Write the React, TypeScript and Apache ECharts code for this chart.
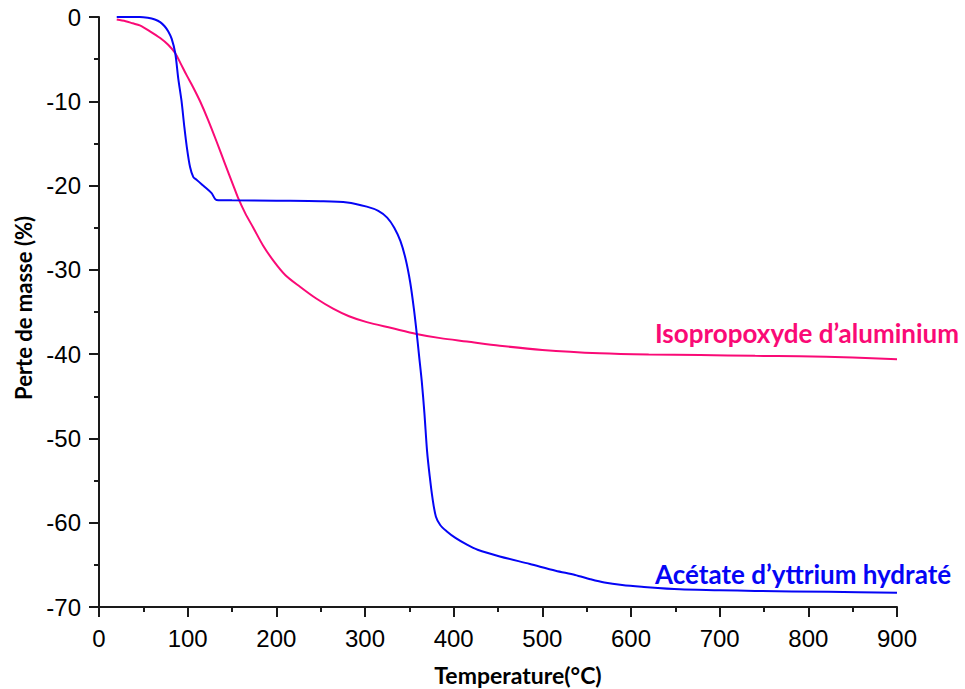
import React, { useEffect, useRef } from "react";
import * as echarts from "echarts";

const yttriumAcetate: [number, number][] = [
  [20, 0], [46, 0], [55, -0.1], [63, -0.3], [69, -0.6], [74, -1.1], [78, -1.7],
  [82, -2.6], [86, -4.3], [89.4, -7.3], [93, -9.9], [96.2, -13], [99, -15.4],
  [102.7, -17.8], [106.4, -19], [110, -19.3], [117.5, -20], [127, -20.9],
  [132.5, -21.7], [150, -21.75], [200, -21.8], [250, -21.85], [280, -22.0],
  [302, -22.5], [315, -23.0], [325, -23.8], [333, -25], [340, -26.6], [346, -28.8],
  [351, -31.5], [355, -34.5], [358, -37.2], [361, -40.2], [364, -43.2], [367, -47],
  [370, -51.5], [373, -54.5], [376, -57], [380, -59.3], [385, -60.3], [392, -61],
  [402, -61.8], [415, -62.6], [427, -63.2], [452, -64], [486, -64.9], [515, -65.7],
  [537, -66.2], [554, -66.7], [570, -67.1], [590, -67.4], [612, -67.6],
  [655, -67.9], [700, -68.0], [740, -68.1], [823, -68.2], [900, -68.3],
];

const aluminiumIsopropoxide: [number, number][] = [
  [20, -0.3], [30, -0.5], [38, -0.75], [46, -1.0], [57.5, -1.7], [69, -2.5],
  [78, -3.3], [86, -4.3], [92, -5.5], [98.8, -6.9], [106, -8.3], [114, -10],
  [123, -12.2], [132.7, -14.8], [142, -17.4], [151.5, -20], [157, -21.5],
  [165, -23.3], [174, -25], [185, -27.1], [196.6, -28.9], [210, -30.6],
  [226.7, -32], [245, -33.4], [264, -34.6], [282, -35.5], [302, -36.2],
  [330, -36.9], [358, -37.6], [385, -38.1], [415, -38.5], [452, -39.0],
  [500, -39.5], [565, -39.9], [620, -40.05], [678, -40.1], [740, -40.2],
  [790, -40.25], [850, -40.4], [900, -40.6],
];

const xTicks = { min: 0, max: 900, interval: 100 };
const yTicks = { min: -70, max: 0, interval: 10 };

const BLUE = "#0505f5";
const PINK = "#fa0a76";
const AXIS = "#1a1a1a";
const BOLD_FONT = "Lato, 'Open Sans', sans-serif";

export default function App() {
  const ref = useRef<HTMLDivElement>(null);
  useEffect(() => {
    if (!ref.current) return;
    const chart = echarts.init(ref.current, null, { renderer: "svg" });
    const axisCommon = {
      axisLine: { show: true, onZero: false, lineStyle: { color: AXIS, width: 2 } },
      axisTick: { show: true, inside: false, length: 10, lineStyle: { color: AXIS, width: 2 } },
      minorTick: { show: true, splitNumber: 2, length: 5, lineStyle: { color: AXIS, width: 2 } },
      splitLine: { show: false },
      axisLabel: {
        color: "#000",
        fontFamily: "Liberation Sans, Arial, sans-serif",
        fontSize: 24,
      },
    };
    chart.setOption({
      animation: false,
      backgroundColor: "#ffffff",
      grid: { left: 99, top: 17, right: 68, bottom: 82, containLabel: false },
      xAxis: {
        type: "value",
        ...xTicks,
        ...axisCommon,
        axisLabel: { ...axisCommon.axisLabel, margin: 19 },
      },
      yAxis: {
        type: "value",
        ...yTicks,
        ...axisCommon,
        axisLabel: { ...axisCommon.axisLabel, margin: 18 },
      },
      series: [
        {
          name: "Isopropoxyde d’aluminium",
          type: "line",
          data: aluminiumIsopropoxide,
          showSymbol: false,
          smooth: 0.3,
          lineStyle: { color: PINK, width: 2 },
          z: 2,
        },
        {
          name: "Acétate d’yttrium hydraté",
          type: "line",
          data: yttriumAcetate,
          showSymbol: false,
          smooth: 0.3,
          lineStyle: { color: BLUE, width: 2 },
          z: 3,
        },
      ],
      graphic: [
        {
          type: "text",
          x: 518,
          y: 675,
          style: {
            text: "Temperature(°C)",
            fill: "#000",
            font: `bold 23px ${BOLD_FONT}`,
            textAlign: "center",
            textVerticalAlign: "middle",
          },
        },
        {
          type: "text",
          x: 23,
          y: 308,
          rotation: Math.PI / 2,
          style: {
            text: "Perte de masse (%)",
            fill: "#000",
            font: `bold 22px ${BOLD_FONT}`,
            textAlign: "center",
            textVerticalAlign: "middle",
          },
        },
        {
          type: "text",
          left: 655,
          top: 320,
          style: {
            text: "Isopropoxyde d’aluminium",
            fill: PINK,
            font: `bold 26px ${BOLD_FONT}`,
          },
        },
        {
          type: "text",
          left: 655,
          top: 561,
          style: {
            text: "Acétate d’yttrium hydraté",
            fill: BLUE,
            font: `bold 26px ${BOLD_FONT}`,
          },
        },
      ],
    });
    return () => chart.dispose();
  }, []);
  return (
    <div
      ref={ref}
      style={{ position: "fixed", left: 0, top: 0, width: 965, height: 689, background: "#fff" }}
    />
  );
}
